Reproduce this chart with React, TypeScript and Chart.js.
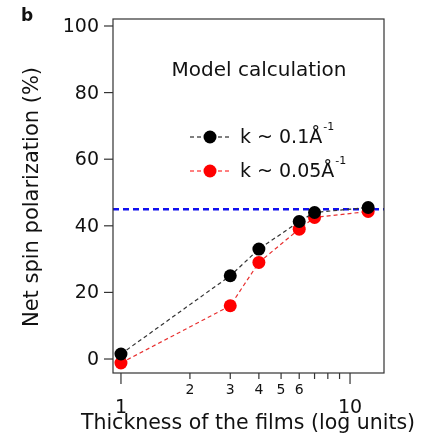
import React, { useEffect, useRef } from "react";
import { Chart, registerables } from "chart.js";

Chart.register(...registerables);

const thickness = [1, 3, 4, 6, 7, 12];
const kHigh = [1.5, 25, 33, 41.3, 44, 45.5];
const kLow = [-1.2, 16, 29, 39, 42.5, 44.3];
const bulkLevel = 45;
const yTickValues = [0, 20, 40, 60, 80, 100];
const xMinorTicks = [2, 3, 4, 5, 6, 7, 8, 9];
const xMinorLabels = [2, 3, 4, 5, 6];
const xMajorTicks = [1, 10];
const legendTitle = "Model calculation";
const seriesNames = ["k ~ 0.1Å", "k ~ 0.05Å"];
const seriesColors = ["#000000", "#ff0000"];
const xTitle = "Thickness of the films (log units)";
const yTitle = "Net spin polarization (%)";

const FONT = '"DejaVu Sans", sans-serif';

const axesPlugin = {
  id: "igorAxes",
  afterDraw(chart: any) {
    const { ctx, chartArea } = chart;
    const xs = chart.scales.x;
    const ys = chart.scales.y;
    const { left, right, top, bottom } = chartArea;
    ctx.save();
    ctx.strokeStyle = "#333";
    ctx.lineWidth = 1.2;
    ctx.setLineDash([]);
    ctx.strokeRect(left, top, right - left, bottom - top);

    // y ticks
    ctx.fillStyle = "#111";
    ctx.font = `19px ${FONT}`;
    ctx.textAlign = "right";
    ctx.textBaseline = "middle";
    for (const v of yTickValues) {
      const y = ys.getPixelForValue(v);
      ctx.beginPath();
      ctx.moveTo(left - 9, y);
      ctx.lineTo(left, y);
      ctx.stroke();
      ctx.fillText(String(v), left - 14, y + 1);
    }

    // x ticks
    for (const v of xMinorTicks) {
      const x = xs.getPixelForValue(v);
      ctx.beginPath();
      ctx.moveTo(x, bottom);
      ctx.lineTo(x, bottom + 6);
      ctx.stroke();
    }
    for (const v of xMajorTicks) {
      const x = xs.getPixelForValue(v);
      ctx.beginPath();
      ctx.moveTo(x, bottom);
      ctx.lineTo(x, bottom + 11);
      ctx.stroke();
    }
    ctx.textAlign = "center";
    ctx.font = `14px ${FONT}`;
    for (const v of xMinorLabels) {
      ctx.fillText(String(v), xs.getPixelForValue(v), bottom + 17);
    }
    ctx.font = `19px ${FONT}`;
    for (const v of xMajorTicks) {
      ctx.fillText(String(v), xs.getPixelForValue(v), bottom + 35);
    }

    // axis titles
    ctx.font = `20.5px ${FONT}`;
    ctx.fillText(xTitle, 248, 424);
    ctx.save();
    ctx.translate(33, 197);
    ctx.rotate(-Math.PI / 2);
    ctx.font = `21px ${FONT}`;
    ctx.fillText(yTitle, 0, 0);
    ctx.restore();

    // panel letter
    ctx.font = `bold 17px ${FONT}`;
    ctx.textAlign = "left";
    ctx.fillText("b", 21, 17);

    // legend
    ctx.font = `20px ${FONT}`;
    ctx.textAlign = "center";
    ctx.fillText(legendTitle, 259, 71);
    const ly = [137, 171];
    for (let i = 0; i < 2; i++) {
      const y = ly[i];
      ctx.strokeStyle = seriesColors[i];
      ctx.lineWidth = 1;
      ctx.setLineDash([4, 3]);
      ctx.beginPath();
      ctx.moveTo(190, y);
      ctx.lineTo(231, y);
      ctx.stroke();
      ctx.setLineDash([]);
      ctx.fillStyle = seriesColors[i];
      ctx.beginPath();
      ctx.arc(210, y, 6.5, 0, Math.PI * 2);
      ctx.fill();
      ctx.fillStyle = "#111";
      ctx.font = `19px ${FONT}`;
      ctx.textAlign = "left";
      ctx.fillText(seriesNames[i], 240, y + 1);
      const w = ctx.measureText(seriesNames[i]).width;
      ctx.font = `11px ${FONT}`;
      ctx.fillText("-1", 240 + w + 1, y - 10);
    }
    ctx.restore();
  },
};

export default function App() {
  const ref = useRef<HTMLCanvasElement | null>(null);
  useEffect(() => {
    if (!ref.current) return;
    const chart = new Chart(ref.current, {
      type: "line",
      data: {
        datasets: [
          {
            label: seriesNames[0],
            data: thickness.map((x, i) => ({ x, y: kHigh[i] })),
            borderColor: "#333",
            borderWidth: 1.2,
            borderDash: [4, 3],
            pointRadius: 6.5,
            pointBackgroundColor: "#000",
            pointBorderColor: "#000",
            pointBorderWidth: 0,
            order: 0,
          },
          {
            label: seriesNames[1],
            data: thickness.map((x, i) => ({ x, y: kLow[i] })),
            borderColor: "#e83030",
            borderWidth: 1.2,
            borderDash: [4, 3],
            pointRadius: 6.5,
            pointBackgroundColor: "#ff0000",
            pointBorderColor: "#ff0000",
            pointBorderWidth: 0,
            order: 1,
          },
          {
            label: "bulk",
            data: [
              { x: 0.923, y: bulkLevel },
              { x: 14.07, y: bulkLevel },
            ],
            borderColor: "#1010ee",
            borderWidth: 2.5,
            borderDash: [6, 4],
            pointRadius: 0,
            order: 2,
          },
        ],
      },
      options: {
        animation: false,
        responsive: false,
        layout: { padding: { left: 113, top: 19, right: 37, bottom: 66 } },
        plugins: { legend: { display: false }, tooltip: { enabled: false } },
        scales: {
          x: { type: "logarithmic", min: 0.923, max: 14.07, display: false },
          y: { type: "linear", min: -4.2, max: 102.1, display: false },
        },
      },
      plugins: [axesPlugin],
    });
    return () => chart.destroy();
  }, []);
  return (
    <div style={{ position: "fixed", left: 0, top: 0, width: 421, height: 439, background: "#fff" }}>
      <canvas ref={ref} width={421} height={439} />
    </div>
  );
}
